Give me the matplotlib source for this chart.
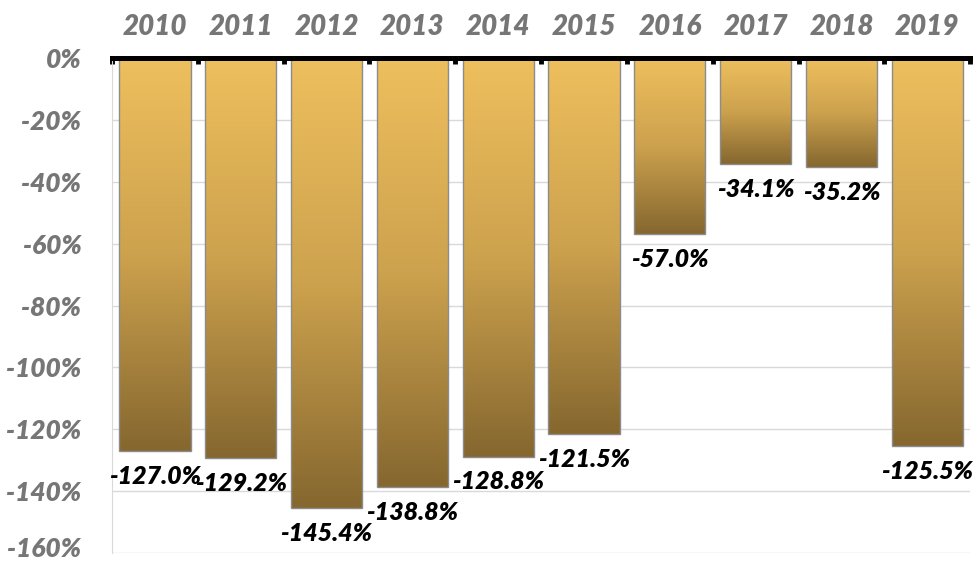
import matplotlib
matplotlib.use("Agg")
import matplotlib.pyplot as plt
import matplotlib.transforms as mtransforms
import numpy as np
from matplotlib.colors import LinearSegmentedColormap
from matplotlib.patches import Rectangle

years = ["2010", "2011", "2012", "2013", "2014", "2015", "2016", "2017", "2018", "2019"]
values = [-127.0, -129.2, -145.4, -138.8, -128.8, -121.5, -57.0, -34.1, -35.2, -125.5]
yticks = [0, -20, -40, -60, -80, -100, -120, -140, -160]

FONT = ["Lato", "DejaVu Sans"]
GOLD = LinearSegmentedColormap.from_list("gold", ["#EEBF5D", "#CDA24E", "#85672F"])

fig = plt.figure(figsize=(9.79, 5.65), dpi=100)
ax = fig.add_axes([0.1144, 0.0212, 0.8766, 0.8758])

# grid
for t in yticks[1:]:
    ax.axhline(t, color="#D9D9D9", lw=1, zorder=0)

grad = np.linspace(0, 1, 256).reshape(-1, 1)
w = 0.83
for i, v in enumerate(values):
    x0, x1 = i - w / 2, i + w / 2
    ax.imshow(grad, cmap=GOLD, aspect="auto", extent=[x0, x1, v, 0],
              origin="upper", zorder=2, interpolation="bilinear")
    ax.add_patch(Rectangle((x0, v), w, -v, fill=False, ec="#8C8C8C", lw=1, zorder=3))
    ax.text(i, v - 4.5, f"{v:.1f}%", ha="center", va="top", fontsize=18,
            family=FONT, weight="heavy", style="italic", color="black", zorder=4)

ax.set_xlim(-0.5, len(years) - 0.5)
ax.set_ylim(-160, 0)

for s in ["right", "bottom"]:
    ax.spines[s].set_visible(False)
ax.spines["left"].set_color("#D9D9D9")
ax.spines["top"].set_linewidth(3.6)
ax.spines["top"].set_zorder(5)

ax.xaxis.tick_top()
ax.set_xticks(range(len(years)))
ax.set_xticklabels(years, fontsize=20, family=FONT, weight="heavy",
                   style="italic", color="#767676")
ax.set_xticks(np.arange(-0.5, len(years)), minor=True)
ax.tick_params(axis="x", which="major", length=0, pad=13)
ax.tick_params(axis="x", which="minor", direction="in", length=4, width=3.5,
               color="black")

ax.set_yticks(yticks)
labels = ax.set_yticklabels([f"{t}%" for t in yticks], fontsize=19, family=FONT,
                            weight="heavy", style="italic", color="#767676",
                            va="center_baseline")
ax.tick_params(axis="y", length=0, pad=22)
# keep the lowest label inside the canvas
labels[-1].set_transform(labels[-1].get_transform() +
                         mtransforms.ScaledTranslation(0, 4 / 72, fig.dpi_scale_trans))

fig.savefig("out.png", dpi=100)
